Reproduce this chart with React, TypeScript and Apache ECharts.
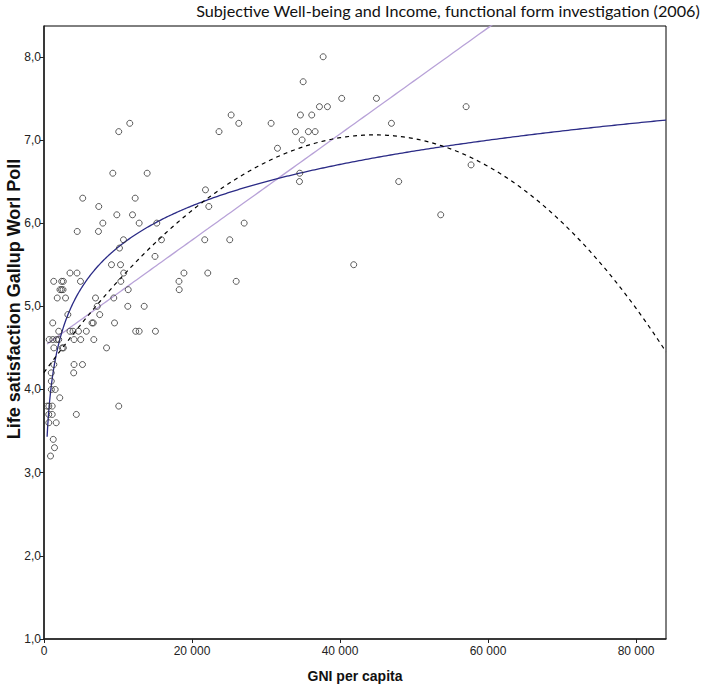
import React, { useEffect, useRef } from "react";
import * as echarts from "echarts";

// ---- Data ----
const gniPerCapita: number[] = [
  11590, 10100, 23650, 9300, 13940, 5230, 7400, 12320, 9840, 11960,
  21820, 22270, 37720, 35020, 25290, 26320, 30690, 34650, 36180, 37220,
  38300, 40230, 44920, 33980, 35730, 36640, 34880, 31550, 34560, 34520,
  27050, 41850, 57040, 46950, 57710, 47930, 53610, 21720, 25100, 18910,
  22130, 18240, 25970, 18270, 7950, 12860, 15240, 7360, 4490, 10740,
  15870, 10200, 15000, 9120, 10340, 10770, 10380, 11380, 6960, 9430,
  7190, 11320, 13540, 7530, 9530, 12390, 12860, 15060, 8450, 3510,
  4460, 1310, 2390, 2610, 4930, 2160, 2370, 2570, 1790, 2910,
  3220, 1180, 6490, 6660, 1990, 3510, 3920, 4660, 5720, 700,
  1190, 1690, 1990, 4060, 4960, 6730, 1330, 2460, 2620, 1330,
  4060, 5200, 980, 4010, 990, 990, 1510, 2130, 420, 650,
  1110, 10100, 640, 1110, 4370, 650, 1650, 1250, 1420, 880,
];
const lifeSatisfaction: number[] = [
  7.2, 7.1, 7.1, 6.6, 6.6, 6.3, 6.2, 6.3, 6.1, 6.1,
  6.4, 6.2, 8.0, 7.7, 7.3, 7.2, 7.2, 7.3, 7.3, 7.4,
  7.4, 7.5, 7.5, 7.1, 7.1, 7.1, 7.0, 6.9, 6.6, 6.5,
  6.0, 5.5, 7.4, 7.2, 6.7, 6.5, 6.1, 5.8, 5.8, 5.4,
  5.4, 5.3, 5.3, 5.2, 6.0, 6.0, 6.0, 5.9, 5.9, 5.8,
  5.8, 5.7, 5.6, 5.5, 5.5, 5.4, 5.3, 5.2, 5.1, 5.1,
  5.0, 5.0, 5.0, 4.9, 4.8, 4.7, 4.7, 4.7, 4.5, 5.4,
  5.4, 5.3, 5.3, 5.3, 5.3, 5.2, 5.2, 5.2, 5.1, 5.1,
  4.9, 4.8, 4.8, 4.8, 4.7, 4.7, 4.7, 4.7, 4.7, 4.6,
  4.6, 4.6, 4.6, 4.6, 4.6, 4.6, 4.5, 4.5, 4.5, 4.3,
  4.3, 4.3, 4.2, 4.2, 4.1, 4.0, 4.0, 3.9, 3.8, 3.8,
  3.8, 3.8, 3.7, 3.7, 3.7, 3.6, 3.6, 3.4, 3.3, 3.2,
];

const xTicks: number[] = [0, 20000, 40000, 60000, 80000];
const yTicks: number[] = [1, 2, 3, 4, 5, 6, 7, 8];

// Fitted curves (coefficients)
const linearFit = { intercept: 4.52, slope: 6.38e-5 };
const logFit = { a: -0.907, b: 0.7184 };
const cubicFitPerThousand = [4.2034, 0.12193, -0.0011641, -2.99e-6];

const X_MIN = 0;
const X_MAX = 84050;
const Y_MIN = 1;
const Y_MAX = 8.37;

const TITLE = "Subjective Well-being and Income, functional form investigation (2006)";
const X_TITLE = "GNI per capita";
const Y_TITLE = "Life satisfaction Gallup Worl Poll";

function sampleCurve(f: (x: number) => number, x0: number, x1: number, n: number) {
  const out: number[][] = [];
  for (let i = 0; i <= n; i++) {
    const t = i / n;
    const x = x0 + (x1 - x0) * t * t;
    out.push([x, f(x)]);
  }
  return out;
}

export default function App() {
  const ref = useRef<HTMLDivElement>(null);

  useEffect(() => {
    if (!ref.current) return;
    const chart = echarts.init(ref.current, null, { renderer: "svg" });

    const xStart = Math.min(...gniPerCapita);
    const scatterData = gniPerCapita.map((g, i) => [g, lifeSatisfaction[i]]);
    const linData = sampleCurve((x) => linearFit.intercept + linearFit.slope * x, xStart, X_MAX, 200);
    const logData = sampleCurve((x) => logFit.a + logFit.b * Math.log(x), xStart, X_MAX, 400);
    const cubData = sampleCurve((x) => {
      const k = x / 1000;
      const c = cubicFitPerThousand;
      return c[0] + c[1] * k + c[2] * k * k + c[3] * k * k * k;
    }, X_MIN, X_MAX, 300);

    // fit title font size to the reference width
    let titleSize = 16;
    try {
      const ctx = document.createElement("canvas").getContext("2d");
      if (ctx) {
        ctx.font = "16px Lato";
        const w = ctx.measureText(TITLE).width;
        if (w > 0) titleSize = Math.round((16 * 503) / w * 10) / 10;
      }
    } catch (e) {}

    const labelFont = "'Liberation Sans Narrow', 'Arial Narrow', 'Liberation Sans', Arial, sans-serif";
    const boldFont = "'Liberation Sans', Arial, sans-serif";

    chart.setOption({
      animation: false,
      backgroundColor: "#ffffff",
      grid: {
        left: 44,
        top: 26,
        width: 622,
        height: 613,
        show: true,
        borderColor: "#000",
        borderWidth: 1,
        backgroundColor: "transparent",
      },
      xAxis: {
        type: "value",
        min: X_MIN,
        max: X_MAX,
        interval: 20000,
        splitLine: { show: false },
        axisLine: { show: true, onZero: false, lineStyle: { color: "#222", width: 1.5 } },
        axisTick: { show: true, length: 4, lineStyle: { color: "#222" }, customValues: xTicks },
        axisLabel: {
          customValues: xTicks,
          margin: 6,
          fontSize: 12,
          fontFamily: labelFont,
          color: "#222",
          formatter: (v: number) => (v === 0 ? "0" : String(Math.round(v)).replace(/\B(?=(\d{3})+(?!\d))/g, " ")),
        },
      },
      yAxis: {
        type: "value",
        min: Y_MIN,
        max: Y_MAX,
        interval: 1,
        splitLine: { show: false },
        axisLine: { show: true, onZero: false, lineStyle: { color: "#222", width: 1.5 } },
        axisTick: { show: true, length: 4, lineStyle: { color: "#222" }, customValues: yTicks },
        axisLabel: {
          customValues: yTicks,
          margin: 3,
          fontSize: 12,
          fontFamily: labelFont,
          color: "#222",
          formatter: (v: number) => v.toFixed(1).replace(".", ","),
        },
      },
      graphic: [
        {
          type: "text",
          right: 5,
          top: 2,
          style: { text: TITLE, font: `${titleSize}px Lato`, fill: "#111" },
        },
        {
          type: "text",
          x: 355,
          y: 676,
          style: {
            text: X_TITLE,
            font: `bold 14px ${boldFont}`,
            fill: "#111",
            textAlign: "center",
            textVerticalAlign: "middle",
          },
        },
        {
          type: "text",
          x: 14,
          y: 299,
          rotation: Math.PI / 2,
          style: {
            text: Y_TITLE,
            font: `bold 18px ${boldFont}`,
            fill: "#111",
            textAlign: "center",
            textVerticalAlign: "middle",
          },
        },
      ],
      series: [
        {
          type: "line",
          name: "Linear",
          data: linData,
          showSymbol: false,
          symbol: "none",
          clip: true,
          lineStyle: { color: "#b8a2d8", width: 1.3 },
          z: 2,
        },
        {
          type: "line",
          name: "Logarithmic",
          data: logData,
          showSymbol: false,
          symbol: "none",
          clip: true,
          lineStyle: { color: "#2b2b86", width: 1.3 },
          z: 2,
        },
        {
          type: "line",
          name: "Cubic",
          data: cubData,
          showSymbol: false,
          symbol: "none",
          clip: true,
          lineStyle: { color: "#000", width: 1.2, type: [4, 4] },
          z: 2,
        },
        {
          type: "scatter",
          name: "Countries",
          data: scatterData,
          symbol: "circle",
          symbolSize: 6,
          itemStyle: { color: "rgba(0,0,0,0)", borderColor: "#333", borderWidth: 1 },
          z: 3,
        },
      ],
    });

    return () => chart.dispose();
  }, []);

  return (
    <div
      ref={ref}
      style={{ position: "fixed", left: 0, top: 0, width: 705, height: 688, background: "#fff" }}
    />
  );
}
